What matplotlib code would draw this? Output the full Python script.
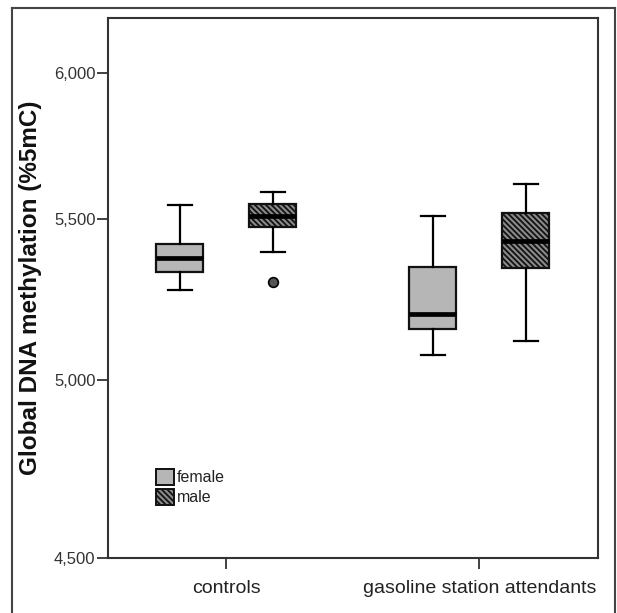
import matplotlib
matplotlib.use("Agg")
import matplotlib.pyplot as plt
from matplotlib.patches import Patch
from matplotlib.ticker import NullLocator, FixedLocator, FixedFormatter
from matplotlib.lines import Line2D

plt.rcParams['font.family'] = ['Liberation Sans', 'DejaVu Sans']
plt.rcParams['hatch.linewidth'] = 1.3

# ---- data ----
groups = ["controls", "gasoline station attendants"]
sexes = ["female", "male"]
whislo = [[5.274, 5.396], [5.074, 5.118]]
q1 = [[5.332, 5.475], [5.153, 5.343]]
med = [[5.375, 5.512], [5.199, 5.429]]
q3 = [[5.419, 5.550], [5.348, 5.522]]
whishi = [[5.546, 5.590], [5.510, 5.616]]
fliers = [[[], [5.301]], [[], []]]
ytick_vals = [4.5, 5.0, 5.5, 6.0]
ytick_labels = ["4,500", "5,000", "5,500", "6,000"]

fill_colors = ["#b6b6b6", "#8a8a8a"]
hatches = [None, "\\" * 6]

fig = plt.figure(figsize=(6.17, 6.13), dpi=100)
fig.patch.set_facecolor("white")
ax = fig.add_axes([108/617, 1-558/613, 490/617, 540/613])

offset = 0.184
width = 0.186
for gi, g in enumerate(groups):
    for si, s in enumerate(sexes):
        stats = [dict(whislo=whislo[gi][si], q1=q1[gi][si], med=med[gi][si],
                      q3=q3[gi][si], whishi=whishi[gi][si], fliers=fliers[gi][si],
                      label=s)]
        pos = gi + (-offset if si == 0 else offset)
        ax.bxp(stats, positions=[pos], widths=width, patch_artist=True,
               showfliers=True, manage_ticks=False,
               boxprops=dict(facecolor=fill_colors[si], edgecolor="#111111",
                             linewidth=1.6, hatch=hatches[si]),
               medianprops=dict(color="black", linewidth=3.4, solid_capstyle="butt"),
               whiskerprops=dict(color="black", linewidth=1.6),
               capprops=dict(color="black", linewidth=1.6),
               capwidths=width*0.5,
               flierprops=dict(marker="o", markersize=7, markerfacecolor="#555555",
                               markeredgecolor="black", markeredgewidth=1.2))

ax.set_yscale("log")
ax.set_ylim(4.5, 6.197)
ax.set_xlim(-0.4676, 1.469)
ax.yaxis.set_major_locator(FixedLocator(ytick_vals))
ax.yaxis.set_major_formatter(FixedFormatter(ytick_labels))
ax.yaxis.set_minor_locator(NullLocator())
ax.set_xticks([0, 1])
ax.set_xticklabels(groups, fontsize=14, color="#222222")
ax.tick_params(axis="y", length=8, width=1.3, color="#333333", labelsize=12,
               labelcolor="#333333", pad=1)
ax.tick_params(axis="x", length=8, width=1.3, color="#333333", pad=8)
for sp in ax.spines.values():
    sp.set_color("#333333")
    sp.set_linewidth(1.5)

ax.set_ylabel("Global DNA methylation (%5mC)", fontsize=17.5, fontweight="bold",
              color="#111111")
ax.yaxis.set_label_coords(-0.135, 0.5)

handles = [Patch(facecolor=fill_colors[i], edgecolor="#111111", linewidth=1.4,
                 hatch=hatches[i], label=sexes[i]) for i in range(2)]
ax.legend(handles=handles, loc="upper left", bbox_to_anchor=(0.098, 0.165),
          frameon=False, fontsize=11.5, handlelength=1.1, handleheight=1.2,
          handletextpad=0.2, labelspacing=0.2, borderpad=0, borderaxespad=0,
          labelcolor="#222222")

# outer frame
for (xs, ys) in [([12/617, 12/617], [0, 1-7.5/613]),
                 ([12/617, 615/617], [1-7.5/613, 1-7.5/613]),
                 ([615/617, 615/617], [1-7.5/613, 0])]:
    fig.add_artist(Line2D(xs, ys, transform=fig.transFigure, color="#444444", linewidth=1.5))

fig.savefig("out.png", dpi=100)
